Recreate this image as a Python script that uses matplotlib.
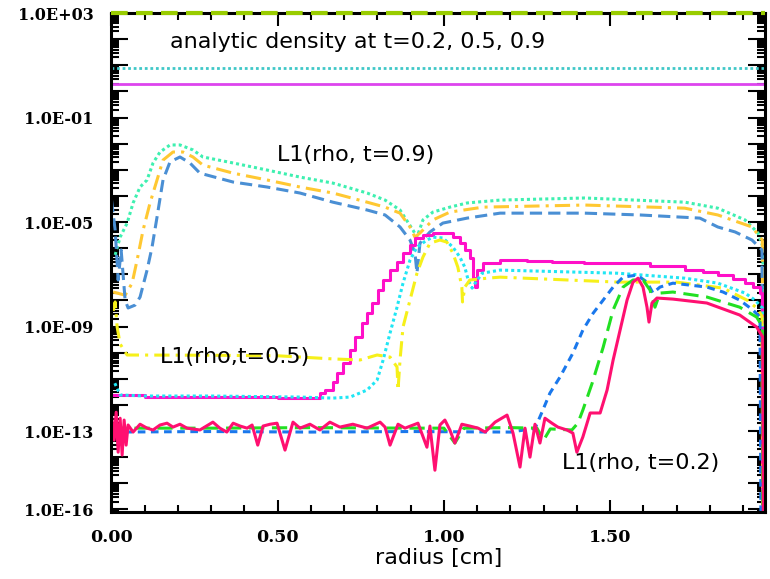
import numpy as np
import matplotlib
matplotlib.use("Agg")
import matplotlib.pyplot as plt
from matplotlib.ticker import FixedLocator, LogLocator, MultipleLocator, FuncFormatter

# analytic density levels (horizontal lines)
analytic_levels = [1.0e3, 7.8, 1.9]

# ---- L1 errors, t = 0.9 (log10 values) ----
x_a9 = [0.011, 0.026, 0.047, 0.065, 0.086, 0.107, 0.125, 0.146, 0.176, 0.206, 0.245, 0.275,
        0.366, 0.468, 0.567, 0.666, 0.769, 0.823, 0.868, 0.907, 0.919, 0.937, 0.967, 1.018,
        1.070, 1.169, 1.424, 1.725, 1.824, 1.906, 1.945, 1.960, 1.962]
lg_a9 = [-6.26, -5.58, -5.04, -4.27, -3.66, -3.39, -2.74, -2.32, -2.05, -2.05, -2.24, -2.51,
         -2.74, -3.01, -3.28, -3.51, -3.89, -4.16, -4.54, -5.31, -5.58, -4.92, -4.62, -4.43,
         -4.27, -4.16, -4.08, -4.24, -4.47, -4.92, -5.42, -5.96, -20]

x_g9 = [0.005, 0.041, 0.062, 0.077, 0.095, 0.116, 0.137, 0.155, 0.185, 0.215, 0.245, 0.275,
        0.366, 0.468, 0.567, 0.666, 0.769, 0.823, 0.868, 0.898, 0.913, 0.928, 0.967, 1.018,
        1.118, 1.424, 1.725, 1.824, 1.927, 1.958, 1.961]
lg_g9 = [-7.68, -7.80, -7.34, -6.46, -5.31, -4.27, -3.39, -2.63, -2.32, -2.32, -2.51, -2.82,
         -3.13, -3.39, -3.66, -3.89, -4.24, -4.43, -4.66, -5.19, -5.58, -5.42, -4.92, -4.62,
         -4.43, -4.35, -4.47, -4.73, -5.19, -5.69, -20]

x_b9 = [0.0, 0.011, 0.020, 0.029, 0.041, 0.050, 0.071, 0.086, 0.107, 0.122, 0.137, 0.155,
        0.176, 0.206, 0.236, 0.266, 0.366, 0.468, 0.567, 0.666, 0.769, 0.823, 0.868, 0.898,
        0.913, 0.919, 0.928, 0.958, 0.997, 1.070, 1.169, 1.424, 1.590, 1.770, 1.824, 1.876,
        1.927, 1.957, 1.960]
lg_b9 = [-4.16, -5.31, -7.22, -6.07, -7.99, -8.29, -8.18, -7.87, -6.84, -5.96, -4.81, -3.39,
         -2.70, -2.51, -2.74, -3.13, -3.47, -3.66, -3.89, -4.24, -4.54, -4.73, -5.19, -5.69,
         -6.19, -6.95, -5.81, -5.38, -5.04, -4.85, -4.66, -4.66, -4.73, -4.85, -5.19, -5.38,
         -5.69, -6.07, -20]

# ---- L1 errors, t = 0.5 ----
x_m5 = [0.0, 0.1, 0.3, 0.5, 0.567, 0.627, 0.642, 0.666, 0.678, 0.696, 0.718, 0.733, 0.754,
        0.769, 0.784, 0.802, 0.817, 0.838, 0.859, 0.877, 0.898, 0.913, 0.937, 0.967, 0.997,
        1.027, 1.048, 1.063, 1.078, 1.088, 1.094, 1.100, 1.118, 1.169, 1.25, 1.325, 1.42,
        1.524, 1.62, 1.725, 1.78, 1.824, 1.87, 1.906, 1.93, 1.951, 1.958]
lg_m5 = [-11.62, -11.70, -11.70, -11.74, -11.74, -11.55, -11.43, -11.13, -10.78, -10.40,
         -9.90, -9.40, -8.87, -8.49, -8.10, -7.60, -7.22, -6.84, -6.53, -6.19, -5.88, -5.61,
         -5.50, -5.42, -5.42, -5.58, -5.81, -6.07, -6.38, -7.15, -7.49, -6.84, -6.57, -6.46,
         -6.49, -6.53, -6.55, -6.57, -6.68, -6.84, -6.92, -7.03, -7.18, -7.34, -7.50, -7.72,
         -20]

x_c5 = [0.010, 0.026, 0.1, 0.3, 0.567, 0.666, 0.718, 0.769, 0.799, 0.817, 0.838, 0.859,
        0.877, 0.898, 0.919, 0.949, 0.967, 0.997, 1.027, 1.048, 1.063, 1.073, 1.085, 1.094,
        1.115, 1.169, 1.524, 1.725, 1.824, 1.906, 1.936, 1.959, 1.961]
lg_c5 = [-11.17, -11.62, -11.66, -11.66, -11.70, -11.74, -11.70, -11.43, -11.05, -10.29,
         -9.25, -8.26, -7.34, -6.46, -5.96, -5.69, -5.58, -5.61, -5.96, -6.34, -6.73, -7.22,
         -7.53, -7.34, -6.96, -6.84, -6.96, -7.15, -7.34, -7.72, -7.99, -8.3, -20]

x_y5 = [0.005, 0.011, 0.017, 0.026, 0.047, 0.3, 0.5, 0.666, 0.748, 0.799, 0.838, 0.859,
        0.862, 0.868, 0.877, 0.898, 0.919, 0.937, 0.958, 0.988, 1.009, 1.027, 1.042, 1.054,
        1.056, 1.063, 1.078, 1.130, 1.169, 1.524, 1.700, 1.840, 1.912, 1.941, 1.957, 1.960]
lg_y5 = [-8.4, -8.06, -9.02, -9.67, -10.09, -10.10, -10.12, -10.24, -10.28, -10.09, -10.17,
         -10.55, -11.43, -10.28, -9.02, -7.99, -6.96, -6.34, -5.81, -5.69, -5.77, -6.19,
         -6.73, -7.49, -8.06, -7.49, -7.22, -7.15, -7.11, -7.30, -7.30, -7.53, -7.99, -8.29,
         -8.6, -20]

# ---- L1 errors, t = 0.2 ----
x_b2 = [0.0, 0.3, 0.6, 0.9, 1.2, 1.274, 1.295, 1.319, 1.349, 1.388, 1.418, 1.449, 1.479,
        1.509, 1.539, 1.581, 1.611, 1.629, 1.650, 1.689, 1.791, 1.840, 1.890, 1.930, 1.951,
        1.955]
lg_b2 = [-13.04, -13.02, -13.04, -13.02, -13.04, -12.90, -12.28, -11.55, -10.94, -10.02,
         -9.14, -8.49, -7.99, -7.49, -7.11, -7.03, -7.30, -7.72, -7.49, -7.34, -7.49, -7.68,
         -7.99, -8.37, -8.64, -20]

x_g2 = [0.0, 0.3, 0.6, 0.9, 1.0, 1.033, 1.06, 1.2, 1.28, 1.30, 1.32, 1.385, 1.403, 1.418,
        1.446, 1.479, 1.509, 1.539, 1.569, 1.599, 1.620, 1.635, 1.650, 1.689, 1.791, 1.890,
        1.941, 1.958, 1.960]
lg_g2 = [-12.89, -12.89, -12.87, -12.89, -12.89, -13.46, -12.89, -12.87, -12.89, -13.35,
         -12.92, -12.96, -12.70, -12.20, -11.17, -9.80, -8.37, -7.49, -7.22, -7.22, -7.60,
         -8.26, -7.72, -7.68, -7.87, -8.26, -8.64, -9.0, -20]

x_r2 = [0.0, 0.008, 0.014, 0.020, 0.026, 0.032, 0.038, 0.044, 0.050, 0.065, 0.086, 0.107,
        0.125, 0.146, 0.167, 0.185, 0.206, 0.227, 0.266, 0.305, 0.326, 0.347, 0.366, 0.387,
        0.408, 0.423, 0.440, 0.456, 0.477, 0.498, 0.522, 0.546, 0.567, 0.597, 0.627, 0.657,
        0.687, 0.726, 0.769, 0.808, 0.823, 0.838, 0.862, 0.883, 0.922, 0.949, 0.958, 0.973,
        0.988, 1.003, 1.018, 1.033, 1.054, 1.078, 1.103, 1.124, 1.154, 1.190, 1.208, 1.229,
        1.244, 1.259, 1.274, 1.289, 1.304, 1.325, 1.343, 1.370, 1.388, 1.400, 1.418, 1.440,
        1.470, 1.491, 1.509, 1.530, 1.551, 1.569, 1.584, 1.599, 1.611, 1.617, 1.626, 1.641,
        1.689, 1.791, 1.890, 1.941, 1.959, 1.962]
lg_r2 = [-12.39, -13.35, -12.28, -13.81, -12.51, -13.92, -12.58, -13.54, -12.77, -13.04,
         -12.74, -12.89, -12.96, -12.77, -12.70, -12.85, -12.74, -12.89, -12.96, -12.66,
         -12.89, -13.04, -12.70, -12.81, -12.89, -12.77, -13.54, -12.81, -12.74, -12.70,
         -13.73, -12.66, -12.89, -12.74, -12.96, -12.66, -12.85, -12.74, -12.89, -12.66,
         -12.85, -13.54, -12.74, -12.89, -12.70, -13.62, -12.81, -14.50, -12.77, -12.58,
         -12.96, -13.46, -12.74, -12.81, -12.89, -13.04, -12.66, -12.39, -13.08, -14.38,
         -12.89, -14.00, -12.74, -13.46, -12.51, -12.70, -12.85, -12.96, -13.08, -13.81,
         -13.23, -12.31, -12.31, -11.43, -10.29, -9.14, -7.99, -7.30, -7.15, -7.49, -8.26,
         -8.83, -8.10, -7.91, -7.95, -8.10, -8.56, -9.02, -9.40, -20]

curves = [
    (x_a9, lg_a9, "#3ef0b0", (0, (1, 1)), "default"),
    (x_g9, lg_g9, "#ffc832", (0, (5, 2, 1, 2)), "default"),
    (x_b9, lg_b9, "#4a8fd4", (0, (4, 2)), "default"),
    (x_m5, lg_m5, "#ff10c8", "-", "steps-post"),
    (x_c5, lg_c5, "#20e6f4", (0, (1, 1)), "default"),
    (x_y5, lg_y5, "#f6f01a", (0, (5, 2, 1, 2)), "default"),
    (x_b2, lg_b2, "#1a78ec", (0, (2.5, 1.8)), "default"),
    (x_g2, lg_g2, "#22e022", (0, (5, 2.5)), "default"),
    (x_r2, lg_r2, "#ff1070", "-", "default"),
]

fig = plt.figure(figsize=(7.7, 5.79), dpi=100)
ax = fig.add_axes([0.1448, 0.1157, 0.8487, 0.8618])

ax.axhline(analytic_levels[0], color="#99cc00", lw=3, ls=(0, (4, 2)), zorder=3, clip_on=False)
ax.axhline(analytic_levels[1], color="#40c8c8", lw=2, ls=(0, (1, 1)))
ax.axhline(analytic_levels[2], color="#dd44ee", lw=2, ls="-")

for xs, lg, c, ls, ds in curves:
    ax.plot(xs, 10.0 ** np.array(lg), color=c, lw=2.2, ls=ls, drawstyle=ds)

ax.set_yscale("log")
ax.set_xlim(0, 1.966)
ax.set_ylim(10 ** -16.1, 1e3)

labelled = {3: "1.0E+03", -1: "1.0E-01", -5: "1.0E-05", -9: "1.0E-09", -13: "1.0E-13", -16: "1.0E-16"}
ax.yaxis.set_major_locator(FixedLocator(10.0 ** np.arange(-16, 4)))
ax.yaxis.set_minor_locator(LogLocator(subs=np.arange(2, 10), numticks=100))
ax.yaxis.set_major_formatter(FuncFormatter(lambda v, p: labelled.get(int(round(np.log10(v))), "")))
ax.xaxis.set_major_locator(MultipleLocator(0.5))
ax.xaxis.set_minor_locator(MultipleLocator(0.1))
ax.xaxis.set_major_formatter(FuncFormatter(lambda v, p: "%.2f" % v))

ax.tick_params(which="both", direction="in", top=True, right=True, width=1.5, color="black")
ax.tick_params(axis="x", which="major", length=9, pad=12)
ax.tick_params(axis="x", which="minor", length=5)
ax.tick_params(axis="y", which="major", length=12, pad=13)
ax.tick_params(axis="y", which="minor", length=6)
for lab in ax.get_xticklabels():
    lab.set_family("DejaVu Serif")
    lab.set_weight("bold")
    lab.set_fontsize(12.5)
for lab in ax.get_yticklabels():
    lab.set_family("DejaVu Serif")
    lab.set_weight("bold")
    lab.set_fontsize(11.5)
for s in ax.spines.values():
    s.set_linewidth(2.2)

ax.set_xlabel("radius [cm]", fontsize=16, labelpad=2)

ax.text(0.0895, 0.942, "analytic density at t=0.2, 0.5, 0.9", transform=ax.transAxes,
        fontsize=16, va="center", ha="left")
ax.text(0.253, 0.715, "L1(rho, t=0.9)", transform=ax.transAxes, fontsize=16, va="center")
ax.text(0.074, 0.311, "L1(rho,t=0.5)", transform=ax.transAxes, fontsize=16, va="center")
ax.text(0.689, 0.098, "L1(rho, t=0.2)", transform=ax.transAxes, fontsize=16, va="center")

fig.savefig("out.png", dpi=100)
